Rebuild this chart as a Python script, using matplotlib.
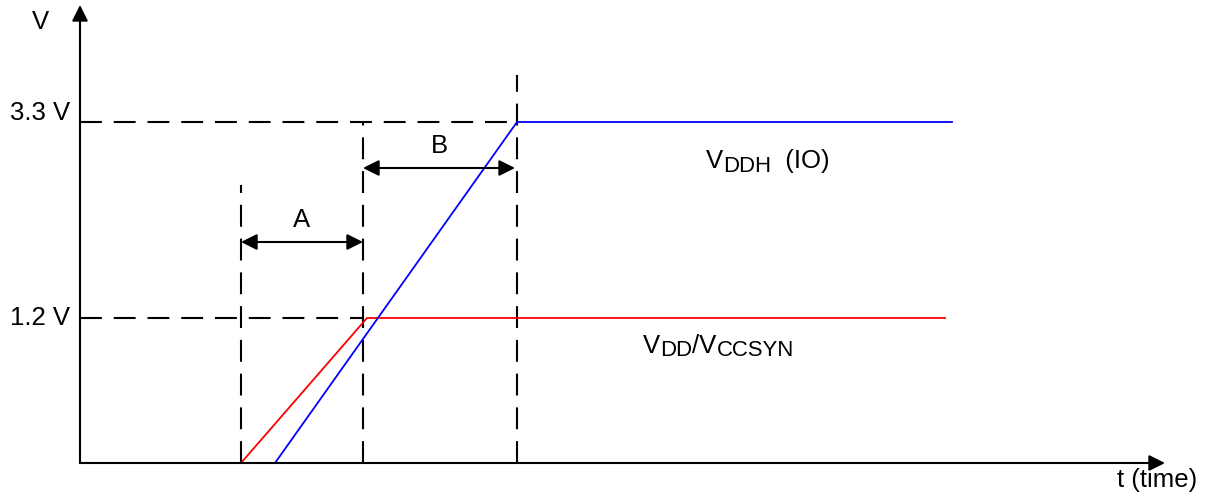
import matplotlib
matplotlib.use("Agg")
import matplotlib.pyplot as plt
from matplotlib.transforms import offset_copy

# schematic units: t measured from the V axis, h measured up from the t axis
core_t = [161, 287, 865]      # VDD / VCCSYN ramp start, ramp end, trace end
core_h = [0, 145, 145]
io_t = [195, 437, 872]        # VDDH (IO)
io_h = [0, 341, 341]

level_h = [341, 145]          # 3.3 V and 1.2 V levels
level_labels = ["3.3 V", "1.2 V"]
level_end_t = [437, 283]

marker_t = [161, 283, 437]    # dashed timing markers
marker_top = [278, 341, 388]

span_a = (161, 283, 221)      # start, end, height
span_b = (283, 435, 295)

io_label = [("V", False), ("DDH", True), ("  (IO)", False)]
core_label = [("V", False), ("DD", True), ("/V", False), ("CCSYN", True)]

plt.rcParams["font.family"] = ["Liberation Sans", "DejaVu Sans"]

fs = 18.5
sub_fs = fs * 0.86
dash = (0, (10.5, 5.7))

fig = plt.figure(figsize=(12.06, 4.95), dpi=100)
ax = fig.add_axes([0, 0, 1, 1])
ax.set_xlim(-80, 1126)
ax.set_ylim(-32, 463)
ax.axis("off")
renderer = fig.canvas.get_renderer()


def sub_text(t, h, parts):
    # draw text pieces one after the other, subscripts smaller and lowered
    dx = 0.0
    for s, is_sub in parts:
        tr = offset_copy(ax.transData, fig=fig, x=dx, y=-3.5 if is_sub else 0, units="dots")
        txt = ax.text(t, h, s, fontsize=sub_fs if is_sub else fs, ha="left", va="baseline", transform=tr)
        dx += txt.get_window_extent(renderer).width


# axes with arrow heads
ax.annotate("", xy=(0, 458), xytext=(0, 0),
            arrowprops=dict(arrowstyle="-|>", lw=1.5, color="k", mutation_scale=24, shrinkA=0, shrinkB=0))
ax.annotate("", xy=(1085, 0), xytext=(0, 0),
            arrowprops=dict(arrowstyle="-|>", lw=1.5, color="k", mutation_scale=24, shrinkA=0, shrinkB=0))

# dashed guides
for h, te in zip(level_h, level_end_t):
    ax.plot([0, te], [h, h], color="k", lw=1.5, linestyle=dash)
for t, top in zip(marker_t, marker_top):
    ax.plot([t, t], [0, top], color="k", lw=1.5, linestyle=dash)

# supply traces
ax.plot(core_t, core_h, color="#ff0000", lw=1.3)
ax.plot(io_t, io_h, color="#0000ff", lw=1.3)

# timing spans
for (t0, t1, h), name in ((span_a, "A"), (span_b, "B")):
    ax.annotate("", xy=(t1, h), xytext=(t0, h),
                arrowprops=dict(arrowstyle="<|-|>", lw=1.5, color="k", mutation_scale=24, shrinkA=0, shrinkB=0))
    ax.text((t0 + t1) / 2, h + 22, name, fontsize=fs, ha="center", va="center")

# labels
ax.text(-40, 441, "V", fontsize=fs, ha="center", va="center")
for h, lab in zip(level_h, level_labels):
    ax.text(-10, h + 9 if h > 200 else h, lab, fontsize=fs, ha="right", va="center")
sub_text(626, 295, io_label)
sub_text(563, 110, core_label)
ax.text(1037, -24, "t (time)", fontsize=fs, ha="left", va="baseline")

fig.savefig("out.png", dpi=100)
